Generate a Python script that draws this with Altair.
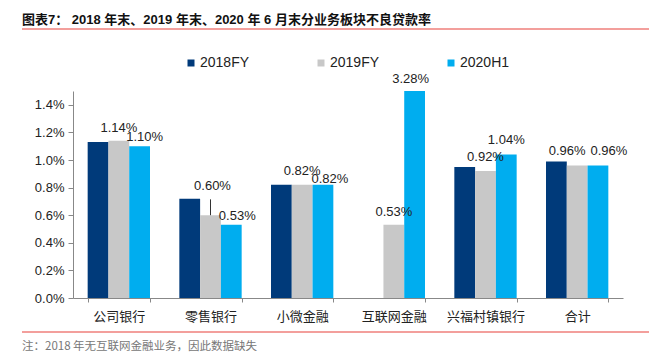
import altair as alt
import pandas as pd

categories = ["公司银行", "零售银行", "小微金融", "互联网金融", "兴福村镇银行", "合计"]
series = ["2018FY", "2019FY", "2020H1"]
v2018 = [1.13, 0.72, 0.82, None, 0.95, 0.99]
v2019 = [1.14, 0.60, 0.82, 0.53, 0.92, 0.96]
v2020 = [1.10, 0.53, 0.82, 3.28, 1.04, 0.96]
y_ticks = [0, 0.2, 0.4, 0.6, 0.8, 1.0, 1.2, 1.4]
colors = ["#003A7A", "#C8C8C8", "#00ADEF"]

title_text = "图表7：  2018 年末、2019 年末、2020 年 6 月末分业务板块不良贷款率"
note_text = "注：2018 年无互联网金融业务，因此数据缺失"

rows = []
for s, vals in zip(series, [v2018, v2019, v2020]):
    for c, v in zip(categories, vals):
        if v is None:
            continue
        rows.append({"cat": c, "series": s, "v": v / 100.0,
                     "lbl": f"{v:.2f}%", "key": f"{c}|{s}"})
df = pd.DataFrame(rows)

# label placement nudges (styling, pixels)
nudge = {
    "公司银行|2019FY": (0, -13),
    "公司银行|2020H1": (5, -9),
    "零售银行|2019FY": (2, -29),
    "零售银行|2020H1": (6, -9),
    "小微金融|2019FY": (0, -14),
    "小微金融|2020H1": (7, -6),
    "互联网金融|2019FY": (0, -13),
    "互联网金融|2020H1": (-4, -12),
    "兴福村镇银行|2019FY": (0, -14),
    "兴福村镇银行|2020H1": (0, -14),
    "合计|2019FY": (-10, -15),
    "合计|2020H1": (11, -15),
}

LAT = "Liberation Sans, Arial, Noto Sans CJK SC"
CJK = "Noto Sans CJK SC"
YMAX = 0.015

x_scale = alt.Scale(paddingInner=0.32, paddingOuter=0.16)
x_axis = alt.Axis(title=None, labelAngle=0, tickBand="extent", tickSize=4,
                  labelFont=CJK, labelFontSize=13, labelColor="#222",
                  labelPadding=8, domainColor="#888", tickColor="#888")
xo_scale = alt.Scale(domain=series, paddingInner=0, paddingOuter=0)
y_scale = alt.Scale(domain=[0, YMAX], nice=False, zero=True)
y_axis = alt.Axis(title=None, format=".1%",
                  values=[t / 100.0 for t in y_ticks],
                  grid=False, tickSize=5, labelFont=LAT, labelFontSize=13,
                  labelColor="#222", labelPadding=4, labelOverlap=False,
                  labelFlush=False, domainColor="#888", tickColor="#888")


def xenc():
    return alt.X("cat:N", sort=categories, scale=x_scale, axis=x_axis)


def xoenc():
    return alt.XOffset("series:N", sort=series, scale=xo_scale)


def yenc(field):
    return alt.Y(field, scale=y_scale, axis=y_axis)


base = alt.Chart(df)

bars = base.mark_bar(clip=True).encode(
    x=xenc(),
    xOffset=xoenc(),
    y=yenc("v:Q"),
    color=alt.Color("series:N", sort=series,
                    scale=alt.Scale(domain=series, range=colors),
                    legend=alt.Legend(title=None, orient="none", direction="horizontal",
                                      legendX=111, legendY=-35, symbolType="square",
                                      symbolSize=49, symbolStrokeWidth=0,
                                      labelFont=LAT, labelFontSize=14, labelColor="#222",
                                      labelOffset=2, columnPadding=64)),
)

layers = [bars]

groups = {}
for k, d in nudge.items():
    groups.setdefault(d, []).append(k)
for (dx, dy), keys in groups.items():
    t = base.transform_filter(
        alt.FieldOneOfPredicate(field="key", oneOf=keys)
    ).transform_calculate(
        ypos=f"min(datum.v, {YMAX})"
    ).mark_text(dx=dx, dy=dy, font=LAT, fontSize=13, color="#222", baseline="middle").encode(
        x=xenc(),
        xOffset=xoenc(),
        y=yenc("ypos:Q"),
        text="lbl:N",
    )
    layers.append(t)

leader = base.transform_filter(
    alt.datum.key == "零售银行|2019FY"
).transform_calculate(
    top="datum.v + 0.00115"
).mark_rule(color="#333", strokeWidth=1, xOffset=1).encode(
    x=xenc(),
    xOffset=xoenc(),
    y=yenc("v:Q"),
    y2="top:Q",
)
layers.append(leader)

one = alt.Data(values=[{"a": 1}])
title_mark = alt.Chart(one).mark_text(
    align="left", baseline="middle", font=LAT, fontSize=13, fontWeight="bold", color="#111"
).encode(x=alt.value(-51), y=alt.value(-71), text=alt.value(title_text))
title_line = alt.Chart(one).mark_rule(color="#E8403A", strokeWidth=1.2).encode(
    x=alt.value(-51), x2=alt.value(576), y=alt.value(-62))
bottom_line = alt.Chart(one).mark_rule(color="#E8403A", strokeWidth=1.2).encode(
    x=alt.value(-51), x2=alt.value(576), y=alt.value(241))
note_mark = alt.Chart(one).mark_text(
    align="left", baseline="middle", font=CJK, fontSize=11.5, color="#777"
).encode(x=alt.value(-51), y=alt.value(256), text=alt.value(note_text))

layers += [title_mark, title_line, bottom_line, note_mark]

chart = alt.layer(*layers).properties(
    width=550, height=207,
    background="white",
    autosize=alt.AutoSizeParams(type="none"),
    padding={"left": 73, "top": 91, "right": 26, "bottom": 57},
).configure_view(stroke=None)

chart.save("out.html", embed_options={"renderer": "svg", "actions": False})
